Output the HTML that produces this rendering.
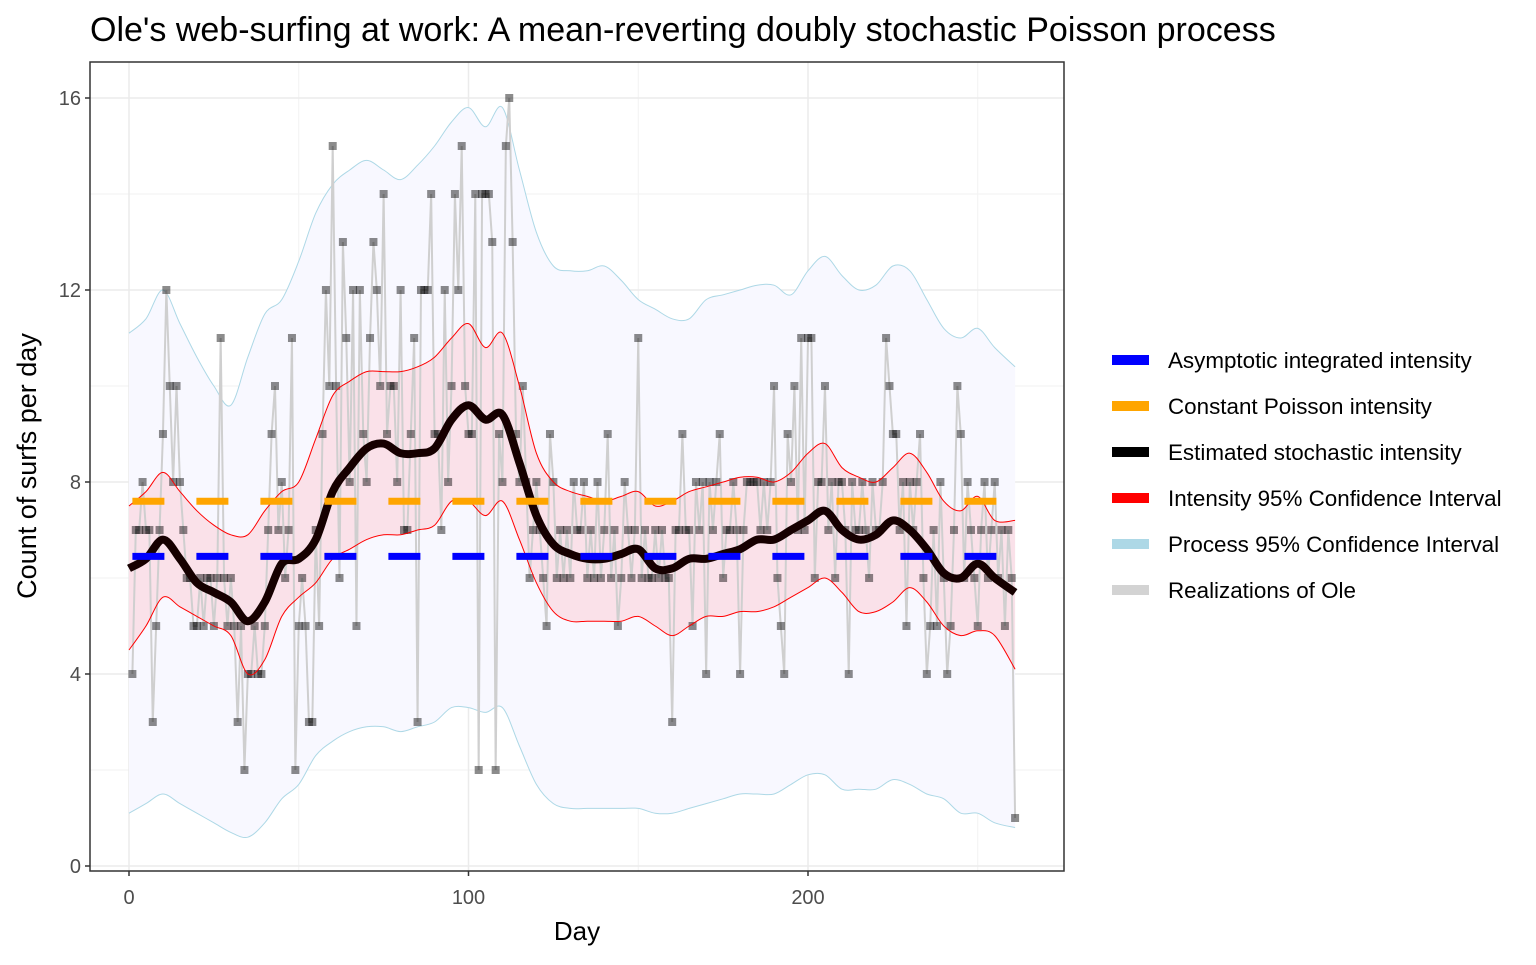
<!DOCTYPE html>
<html><head><meta charset="utf-8">
<style>
body{margin:0;background:#fff;width:1536px;height:960px;overflow:hidden;font-family:"Liberation Sans",Arial,sans-serif}
</style></head>
<body>
<svg id="chart" width="1536" height="960" xmlns="http://www.w3.org/2000/svg">
<text x="90" y="41" font-size="34" fill="#000">Ole's web-surfing at work: A mean-reverting doubly stochastic Poisson process</text>
<g id="plot"></g>
</svg>
<script>
const counts=[4,7,7,8,7,7,3,5,7,9,
12,10,8,10,8,7,6,6,5,5,
6,5,6,6,5,6,11,6,5,6,
5,3,5,2,4,4,5,4,4,5,
7,9,10,7,8,6,7,11,2,5,
6,5,3,3,7,5,9,12,10,15,
10,6,13,11,8,12,5,12,9,8,
11,13,12,10,14,9,10,10,8,12,
7,7,9,11,3,12,12,12,14,9,
9,7,12,8,10,14,12,15,10,9,
9,14,2,14,14,14,13,2,9,8,
15,16,13,9,8,10,
8,6,7,8,7,6,5,9,8,6,7,6,7,6,8,7,7,8,6,7,6,8,6,7,9,6,7,5,6,8,7,6,7,
11,
6,7,6,6,7,6,7,6,6,3,
7,7,9,7,7,5,8,7,8,4,
8,7,8,9,6,7,7,8,7,4,
7,8,8,8,8,7,8,7,8,10,
6,5,4,9,8,10,7,11,7,11,
11,6,8,8,10,7,8,6,8,8,
7,4,8,7,7,8,7,6,8,7,
7,8,11,10,9,9,7,8,5,8,
7,8,9,6,4,5,7,5,8,6,
4,5,7,10,9,6,8,7,6,5,
7,8,6,7,8,6,7,5,7,6,
1];
const curveDays=[0,5,10,15,20,25,30,35,40,45,50,55,60,65,70,75,80,85,90,95,100,105,110,115,120,125,130,135,140,145,150,155,160,165,170,175,180,185,190,195,200,205,210,215,220,225,230,235,240,245,250,255,261];
const intensity=[6.2,6.4,6.8,6.4,5.9,5.7,5.5,5.1,5.5,6.3,6.4,6.8,7.8,8.3,8.7,8.8,8.6,8.6,8.7,9.3,9.6,9.3,9.4,8.4,7.3,6.7,6.5,6.4,6.4,6.5,6.6,6.2,6.2,6.4,6.4,6.5,6.6,6.8,6.8,7.0,7.2,7.4,7.0,6.8,6.9,7.2,7.0,6.6,6.1,6.0,6.3,6.0,5.7];
const ciUpper=[7.5,7.8,8.2,7.8,7.4,7.1,6.9,6.9,7.4,7.8,8.0,8.9,9.8,10.1,10.3,10.3,10.3,10.4,10.6,11.0,11.3,10.8,11.1,10.0,8.6,8.0,7.8,7.7,7.6,7.7,7.8,7.5,7.6,7.8,7.9,8.0,8.1,8.1,8.0,8.2,8.6,8.8,8.3,8.1,8.0,8.3,8.6,8.2,7.6,7.4,7.7,7.2,7.2];
const ciLower=[4.5,5.0,5.6,5.4,5.2,5.0,4.8,4.0,4.3,5.2,5.6,5.9,6.4,6.6,6.8,6.9,6.9,7.0,7.1,7.6,7.6,7.3,7.6,6.8,5.9,5.3,5.1,5.1,5.1,5.1,5.2,5.0,4.8,5.0,5.2,5.2,5.3,5.3,5.4,5.6,5.8,6.0,5.7,5.3,5.3,5.5,5.8,5.5,5.0,4.8,4.9,4.8,4.1];
const procUpper=[11.1,11.4,12.0,11.3,10.6,10.0,9.6,10.6,11.5,11.8,12.6,13.6,14.2,14.5,14.7,14.5,14.3,14.6,15.0,15.5,15.8,15.4,15.8,14.5,13.2,12.5,12.4,12.4,12.5,12.2,11.8,11.6,11.4,11.4,11.8,11.9,12.0,12.1,12.1,11.9,12.4,12.7,12.3,12.0,12.1,12.5,12.4,11.8,11.2,11.0,11.2,10.8,10.4];
const procLower=[1.1,1.3,1.5,1.3,1.1,0.9,0.7,0.6,0.9,1.4,1.7,2.3,2.6,2.8,2.9,2.9,2.8,2.9,3.0,3.3,3.3,3.2,3.3,2.5,1.7,1.3,1.2,1.2,1.2,1.2,1.2,1.1,1.1,1.2,1.3,1.4,1.5,1.5,1.5,1.7,1.9,1.9,1.6,1.6,1.6,1.8,1.7,1.5,1.4,1.1,1.1,0.9,0.8];
const asymptotic=6.45, constantRate=7.6;
const xTicks=[0,100,200], yTicks=[0,4,8,12,16];
const legendLabels=["Asymptotic integrated intensity","Constant Poisson intensity","Estimated stochastic intensity","Intensity 95% Confidence Interval","Process 95% Confidence Interval","Realizations of Ole"];
const legendColors=["#0000ff","#ffa500","#000000","#ff0000","#add8e6","#d3d3d3"];

const NS="http://www.w3.org/2000/svg";
const P={l:90,r:1064,t:62,b:871};
const X=d=>129+3.395*d, Y=v=>866-48*v;
const g=document.getElementById('plot');
function mk(tag,attrs,parent){const e=document.createElementNS(NS,tag);for(const k in attrs)e.setAttribute(k,attrs[k]);(parent||g).appendChild(e);return e;}
function smooth(pts){let d=`M${pts[0][0]},${pts[0][1]}`;for(let i=0;i<pts.length-1;i++){const p0=pts[Math.max(i-1,0)],p1=pts[i],p2=pts[i+1],p3=pts[Math.min(i+2,pts.length-1)];d+=` C${p1[0]+(p2[0]-p0[0])/6},${p1[1]+(p2[1]-p0[1])/6} ${p2[0]-(p3[0]-p1[0])/6},${p2[1]-(p3[1]-p1[1])/6} ${p2[0]},${p2[1]}`;}return d;}
function pts(arr){return curveDays.map((d,i)=>[X(d),Y(arr[i])]);}
function band(up,lo){const u=pts(up),l=pts(lo).reverse();return smooth(u)+' L'+smooth(l).slice(1)+' Z';}

const panel=mk('rect',{x:P.l,y:P.t,width:P.r-P.l,height:P.b-P.t,fill:'#fff'});


[2,6,10,14].forEach(v=>mk('line',{x1:P.l,x2:P.r,y1:Y(v),y2:Y(v),stroke:'#f2f2f2','stroke-width':1}));
[50,150,250].forEach(v=>mk('line',{x1:X(v),x2:X(v),y1:P.t,y2:P.b,stroke:'#f2f2f2','stroke-width':1}));
yTicks.forEach(v=>{const l=mk('line',{x1:P.l,x2:P.r,y1:Y(v),y2:Y(v),stroke:'#ebebeb','stroke-width':1.5});});
xTicks.forEach(v=>{const l=mk('line',{x1:X(v),x2:X(v),y1:P.t,y2:P.b,stroke:'#ebebeb','stroke-width':1.5});});

const pb=mk('path',{d:band(procUpper,procLower),fill:'#f8f8ff',stroke:'none'});


[procUpper,procLower].forEach(a=>{const e=mk('path',{d:smooth(pts(a)),fill:'none',stroke:'#add8e6','stroke-width':1});});
const ib=mk('path',{d:band(ciUpper,ciLower),fill:'#ffb6c1','fill-opacity':0.35,stroke:'none'});



const rl=mk('polyline',{points:counts.map((c,i)=>X(i+1)+','+Y(c)).join(' '),fill:'none',stroke:'#cfcfcf','stroke-width':2});


counts.forEach((c,i)=>{const r=mk('rect',{x:X(i+1)-4,y:Y(c)-4,width:8,height:8,fill:'#000','fill-opacity':0.45});

});

[ciUpper,ciLower].forEach(a=>{const e=mk('path',{d:smooth(pts(a)),fill:'none',stroke:'#ff0000','stroke-width':1});});
const il=mk('path',{d:smooth(pts(intensity)),fill:'none',stroke:'#160000','stroke-width':8});


const cl=mk('line',{x1:X(1),x2:X(261),y1:Y(constantRate),y2:Y(constantRate),stroke:'#ffa500','stroke-width':7,'stroke-dasharray':'32 32'});


const al=mk('line',{x1:X(1),x2:X(261),y1:Y(asymptotic),y2:Y(asymptotic),stroke:'#0000ff','stroke-width':7,'stroke-dasharray':'32 32'});



const border=mk('rect',{x:P.l,y:P.t,width:P.r-P.l,height:P.b-P.t,fill:'none',stroke:'#333','stroke-width':1.5});



yTicks.forEach(v=>{mk('line',{x1:P.l-5,x2:P.l,y1:Y(v),y2:Y(v),stroke:'#333','stroke-width':1.5});
const t=mk('text',{x:P.l-9,y:Y(v)+7,'text-anchor':'end','font-size':20,fill:'#4d4d4d'});t.textContent=v;

});
xTicks.forEach(v=>{mk('line',{x1:X(v),x2:X(v),y1:P.b,y2:P.b+5,stroke:'#333','stroke-width':1.5});
const t=mk('text',{x:X(v),y:P.b+33,'text-anchor':'middle','font-size':20,fill:'#4d4d4d'});t.textContent=v;

});
const xt=mk('text',{x:577,y:940,'text-anchor':'middle','font-size':26,fill:'#000'});xt.textContent='Day';


const yt=mk('text',{x:36,y:466,'text-anchor':'middle','font-size':27,fill:'#000',transform:'rotate(-90 36 466)'});yt.textContent='Count of surfs per day';



legendLabels.forEach((lab,i)=>{const cy=360+46*i;
const gEl=mk('g',{});


mk('rect',{x:1112,y:cy-5,width:37,height:10,fill:legendColors[i]},gEl);
const t=mk('text',{x:1168,y:cy+8,'font-size':22.4,fill:'#000'},gEl);t.textContent=lab;});
</script>
</body></html>
